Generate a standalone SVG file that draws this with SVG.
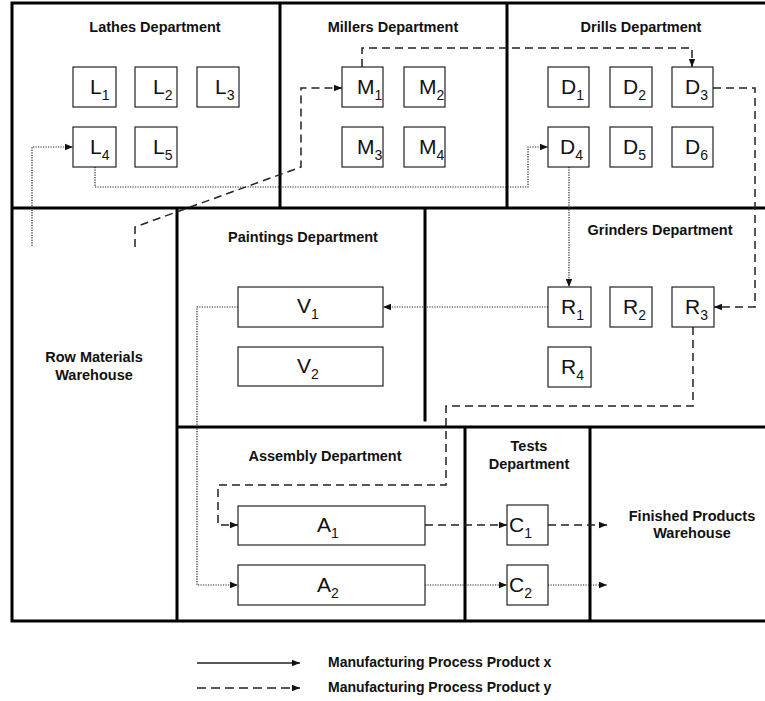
<svg xmlns="http://www.w3.org/2000/svg" width="765" height="701" viewBox="0 0 765 701">
<style>
.wall{stroke:#000;stroke-width:3;fill:none;stroke-linecap:square}
.box{fill:#fff;stroke:#222;stroke-width:1.2}
.lbl{font-family:"Liberation Sans",Arial,sans-serif;font-size:14.5px;font-weight:bold;fill:#111;text-anchor:middle}
.leg{font-family:"Liberation Sans",Arial,sans-serif;font-size:14px;font-weight:bold;fill:#111}
.nl{font-family:"Liberation Sans",Arial,sans-serif;font-size:21px;fill:#111}
.sub{font-size:14px}
.dot{stroke:#222;stroke-width:1.2;fill:none;stroke-dasharray:1.2 1.3}
.dash{stroke:#222;stroke-width:1.5;fill:none;stroke-dasharray:8 5}
.solid{stroke:#222;stroke-width:1.3;fill:none}
</style>
<defs>
<marker id="ah" viewBox="0 0 8 8" refX="8" refY="4" markerWidth="8" markerHeight="8" markerUnits="userSpaceOnUse" orient="auto">
<path d="M0,0.8 L8,4 L0,7.2 Z" fill="#111"/>
</marker>
</defs>
<rect width="765" height="701" fill="#fff"/>
<g id="walls">
<path class="wall" d="M12,3 H765 M12,3 V621 H765 M280,3 V208 M507,3 V208 M12,208 H765 M177,208 V621 M425,208 V420 M177,427 H765 M465,427 V621 M590,427 V621"/>
</g>
<g id="labels">
<text class="lbl" x="155" y="32">Lathes Department</text>
<text class="lbl" x="393" y="32">Millers Department</text>
<text class="lbl" x="641" y="32">Drills Department</text>
<text class="lbl" x="303" y="242">Paintings Department</text>
<text class="lbl" x="660" y="235">Grinders Department</text>
<text class="lbl" x="94" y="362">Row Materials</text>
<text class="lbl" x="94" y="380">Warehouse</text>
<text class="lbl" x="325" y="461">Assembly Department</text>
<text class="lbl" x="529" y="451">Tests</text>
<text class="lbl" x="529" y="469">Department</text>
<text class="lbl" x="692" y="521">Finished Products</text>
<text class="lbl" x="692" y="538">Warehouse</text>
</g>
<g id="connectors">
<path class="dot" d="M32,246 V147 H73" marker-end="url(#ah)"/>
<path class="dot" d="M95,167 V187 H528 V147 H548" marker-end="url(#ah)"/>
<path class="dot" d="M569,167 V287" marker-end="url(#ah)"/>
<path class="dot" d="M548,307 H383" marker-end="url(#ah)"/>
<path class="dot" d="M238,307 H197 V585 H238" marker-end="url(#ah)"/>
<path class="dot" d="M425,585 H507" marker-end="url(#ah)"/>
<path class="dot" d="M548,585 H607" marker-end="url(#ah)"/>
<path class="dash" d="M135,247 V227 L301,167 V88 H342" marker-end="url(#ah)"/>
<path class="dash" d="M362,67 V48 H692 V67" marker-end="url(#ah)"/>
<path class="dash" d="M713,88 H755 V307 H714" marker-end="url(#ah)"/>
<path class="dash" d="M693,327 V406 H446 V485 H218 V525 H238" marker-end="url(#ah)"/>
<path class="dash" d="M425,525 H507" marker-end="url(#ah)"/>
<path class="dash" d="M548,525 H607" marker-end="url(#ah)"/>
</g>
<g id="L1"><rect class="box" x="73" y="67" width="43" height="40"/><text class="nl" x="90" y="94">L<tspan class="sub" dy="6">1</tspan></text></g>
<g id="L2"><rect class="box" x="135" y="67" width="42" height="40"/><text class="nl" x="153" y="94">L<tspan class="sub" dy="6">2</tspan></text></g>
<g id="L3"><rect class="box" x="197" y="67" width="42" height="40"/><text class="nl" x="215" y="94">L<tspan class="sub" dy="6">3</tspan></text></g>
<g id="L4"><rect class="box" x="73" y="127" width="43" height="40"/><text class="nl" x="90" y="154">L<tspan class="sub" dy="6">4</tspan></text></g>
<g id="L5"><rect class="box" x="135" y="127" width="42" height="40"/><text class="nl" x="153" y="154">L<tspan class="sub" dy="6">5</tspan></text></g>
<g id="M1"><rect class="box" x="342" y="67" width="41" height="40"/><text class="nl" x="357" y="94">M<tspan class="sub" dy="6">1</tspan></text></g>
<g id="M2"><rect class="box" x="404" y="67" width="41" height="40"/><text class="nl" x="419" y="94">M<tspan class="sub" dy="6">2</tspan></text></g>
<g id="M3"><rect class="box" x="342" y="127" width="41" height="40"/><text class="nl" x="357" y="154">M<tspan class="sub" dy="6">3</tspan></text></g>
<g id="M4"><rect class="box" x="404" y="127" width="41" height="40"/><text class="nl" x="419" y="154">M<tspan class="sub" dy="6">4</tspan></text></g>
<g id="D1"><rect class="box" x="548" y="67" width="41" height="40"/><text class="nl" x="561" y="94">D<tspan class="sub" dy="6">1</tspan></text></g>
<g id="D2"><rect class="box" x="610" y="67" width="42" height="40"/><text class="nl" x="623" y="94">D<tspan class="sub" dy="6">2</tspan></text></g>
<g id="D3"><rect class="box" x="672" y="67" width="41" height="40"/><text class="nl" x="685" y="94">D<tspan class="sub" dy="6">3</tspan></text></g>
<g id="D4"><rect class="box" x="548" y="127" width="41" height="40"/><text class="nl" x="560" y="154">D<tspan class="sub" dy="6">4</tspan></text></g>
<g id="D5"><rect class="box" x="610" y="127" width="42" height="40"/><text class="nl" x="623" y="154">D<tspan class="sub" dy="6">5</tspan></text></g>
<g id="D6"><rect class="box" x="672" y="127" width="41" height="40"/><text class="nl" x="685" y="154">D<tspan class="sub" dy="6">6</tspan></text></g>
<g id="R1"><rect class="box" x="548" y="287" width="43" height="40"/><text class="nl" x="561" y="314">R<tspan class="sub" dy="6">1</tspan></text></g>
<g id="R2"><rect class="box" x="610" y="287" width="42" height="40"/><text class="nl" x="623" y="314">R<tspan class="sub" dy="6">2</tspan></text></g>
<g id="R3"><rect class="box" x="672" y="287" width="42" height="40"/><text class="nl" x="685" y="314">R<tspan class="sub" dy="6">3</tspan></text></g>
<g id="R4"><rect class="box" x="548" y="347" width="43" height="40"/><text class="nl" x="561" y="374">R<tspan class="sub" dy="6">4</tspan></text></g>
<g id="V1"><rect class="box" x="238" y="287" width="145" height="40"/><text class="nl" x="297" y="313">V<tspan class="sub" dy="6">1</tspan></text></g>
<g id="V2"><rect class="box" x="238" y="347" width="145" height="39"/><text class="nl" x="297" y="373">V<tspan class="sub" dy="6">2</tspan></text></g>
<g id="A1"><rect class="box" x="238" y="506" width="187" height="39"/><text class="nl" x="317" y="532">A<tspan class="sub" dy="6">1</tspan></text></g>
<g id="A2"><rect class="box" x="238" y="565" width="187" height="40"/><text class="nl" x="317" y="592">A<tspan class="sub" dy="6">2</tspan></text></g>
<g id="C1"><rect class="box" x="507" y="505" width="41" height="40"/><text class="nl" x="509" y="532">C<tspan class="sub" dy="6">1</tspan></text></g>
<g id="C2"><rect class="box" x="507" y="565" width="41" height="40"/><text class="nl" x="509" y="592">C<tspan class="sub" dy="6">2</tspan></text></g>
<g id="legend">
<path class="solid" d="M197,663 H300" marker-end="url(#ah)"/>
<path class="dash" d="M197,688 H300" style="stroke-dasharray:9 5" marker-end="url(#ah)"/>
<text class="leg" x="328" y="667">Manufacturing Process Product x</text>
<text class="leg" x="328" y="692">Manufacturing Process Product y</text>
</g>
</svg>
